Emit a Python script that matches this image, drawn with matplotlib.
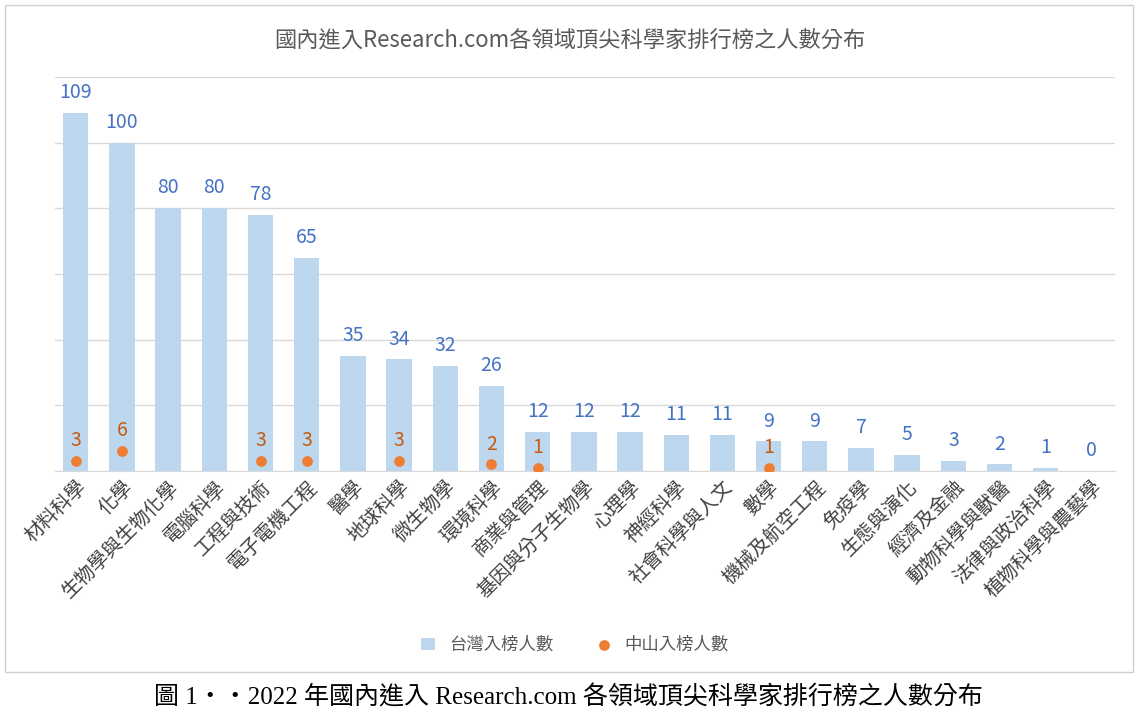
import matplotlib
matplotlib.use("Agg")
import matplotlib.pyplot as plt
from matplotlib.patches import Rectangle

plt.rcParams['font.family'] = ['Noto Sans CJK TC', 'DejaVu Sans']

categories = ["材料科學","化學","生物學與生物化學","電腦科學","工程與技術","電子電機工程","醫學","地球科學",
              "微生物學","環境科學","商業與管理","基因與分子生物學","心理學","神經科學","社會科學與人文","數學",
              "機械及航空工程","免疫學","生態與演化","經濟及金融","動物科學與獸醫","法律與政治科學","植物科學與農藝學"]
taiwan = [109,100,80,80,78,65,35,34,32,26,12,12,12,11,11,9,9,7,5,3,2,1,0]
zhongshan = [3,6,0,0,3,3,0,3,0,2,1,0,0,0,0,1,0,0,0,0,0,0,0]

fig = plt.figure(figsize=(11.39, 7.21), dpi=100)
fig.patches.append(Rectangle((5/1139, 1-672/721), 1128/1139, 667/721, transform=fig.transFigure,
                             fill=False, edgecolor='#d0d0d0', linewidth=1))
ax = fig.add_axes([55/1139, 250/721, 1060/1139, 394/721])
x = list(range(len(categories)))
h1 = ax.bar(x, taiwan, width=0.55, color='#BDD7EE', zorder=2, label='台灣入榜人數')
for i, v in enumerate(taiwan):
    ax.text(i, v + 3, str(v), ha='center', va='bottom', color='#4472C4', fontsize=14)
zx = [i for i, v in enumerate(zhongshan) if v > 0]
zy = [zhongshan[i] for i in zx]
h2 = ax.scatter(zx, zy, s=45, color='#ED7D31', zorder=3, label='中山入榜人數')
for i, v in zip(zx, zy):
    ax.text(i, v + 3, str(v), ha='center', va='bottom', color='#C55A11', fontsize=14)
ax.set_ylim(0, 120)
ax.set_xlim(-0.45, len(categories) - 0.5)
ax.set_yticks(range(0, 121, 20))
ax.set_yticklabels([])
ax.tick_params(axis='y', length=0)
ax.tick_params(axis='x', length=0, pad=4)
ax.grid(axis='y', color='#d9d9d9', linewidth=1, zorder=0)
for s in ['top', 'right', 'left']:
    ax.spines[s].set_visible(False)
ax.spines['bottom'].set_color('#d9d9d9')
ax.set_xticks(x)
ax.set_xticklabels(categories, rotation=45, ha='right', rotation_mode='anchor', fontsize=14, color='#404040')
fig.text(570/1139, 1-40/721, '國內進入Research.com各領域頂尖科學家排行榜之人數分布', ha='center', va='center',
         fontsize=16, color='#595959')
fig.legend(handles=[h1, h2], loc='center', bbox_to_anchor=(575/1139, 1-645/721), ncol=2, frameon=False, fontsize=12.5,
           labelcolor='#595959', handlelength=0.8, columnspacing=2.5)
fig.text(568/1139, 1-697/721, '圖 1‧‧2022 年國內進入 Research.com 各領域頂尖科學家排行榜之人數分布',
         ha='center', va='center', fontsize=18, color='black',
         family=['Liberation Serif', 'Noto Sans CJK TC', 'DejaVu Sans'])
fig.savefig('out.png', dpi=100)
